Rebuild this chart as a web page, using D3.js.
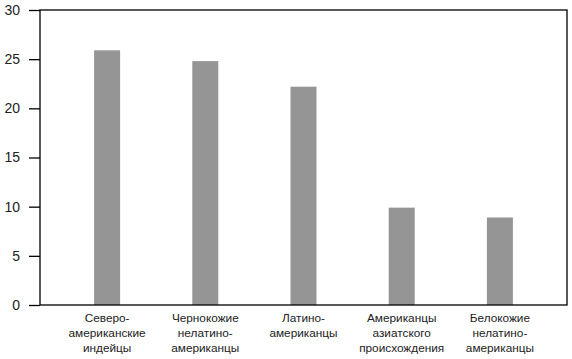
<!DOCTYPE html>
<html><head><meta charset="utf-8">
<script src="https://cdn.jsdelivr.net/npm/d3@7"></script>
<style>body{margin:0;background:#fff}svg{display:block}</style>
</head><body>
<svg id="chart" width="572" height="359"></svg>
<script>
const categories = ["Северо-\nамериканские\nиндейцы","Чернокожие\nнелатино-\nамериканцы","Латино-\nамериканцы","Американцы\nазиатского\nпроисхождения","Белокожие\nнелатино-\nамериканцы"];
const values = [25.9, 24.8, 22.2, 9.9, 8.9];
const yTicks = [0,5,10,15,20,25,30];

const svg = d3.select("#chart");
const L=40, R=567, T=10, B=305;
const x = d3.scaleBand().domain(categories).range([58,549]);
const y = d3.scaleLinear().domain([0,30]).range([B,T]);
const barW = 26;
const font = "Liberation Sans, Arial, Helvetica, sans-serif";

svg.selectAll("rect.bar").data(values).join("rect")
  .attr("x",(d,i)=>x(categories[i])+x.bandwidth()/2-barW/2)
  .attr("y",d=>y(d)).attr("width",barW).attr("height",d=>y(0)-y(d))
  .attr("fill","#959595");

svg.append("rect").attr("x",L).attr("y",T).attr("width",R-L).attr("height",B-T)
  .attr("fill","none").attr("stroke","#000").attr("stroke-width",1.3);

const ya = svg.append("g").attr("transform",`translate(${L},0)`)
  .call(d3.axisLeft(y).tickValues(yTicks).tickSize(11).tickPadding(9));
ya.select(".domain").remove();
ya.selectAll("line").attr("stroke","#000").attr("stroke-width",1.3);
ya.selectAll("text").attr("font-family",font).attr("font-size",14).attr("fill","#222");

const lab = svg.append("g");
categories.forEach((c,i)=>{
  const t = lab.append("text").attr("text-anchor","middle")
    .attr("font-family",font).attr("font-size",11.8).attr("fill","#222")
    .attr("x",x(c)+x.bandwidth()/2).attr("y",322);
  c.split("\n").forEach((s,j)=>t.append("tspan").attr("x",x(c)+x.bandwidth()/2).attr("dy",j?15:0).text(s));
});
</script>
</body></html>
